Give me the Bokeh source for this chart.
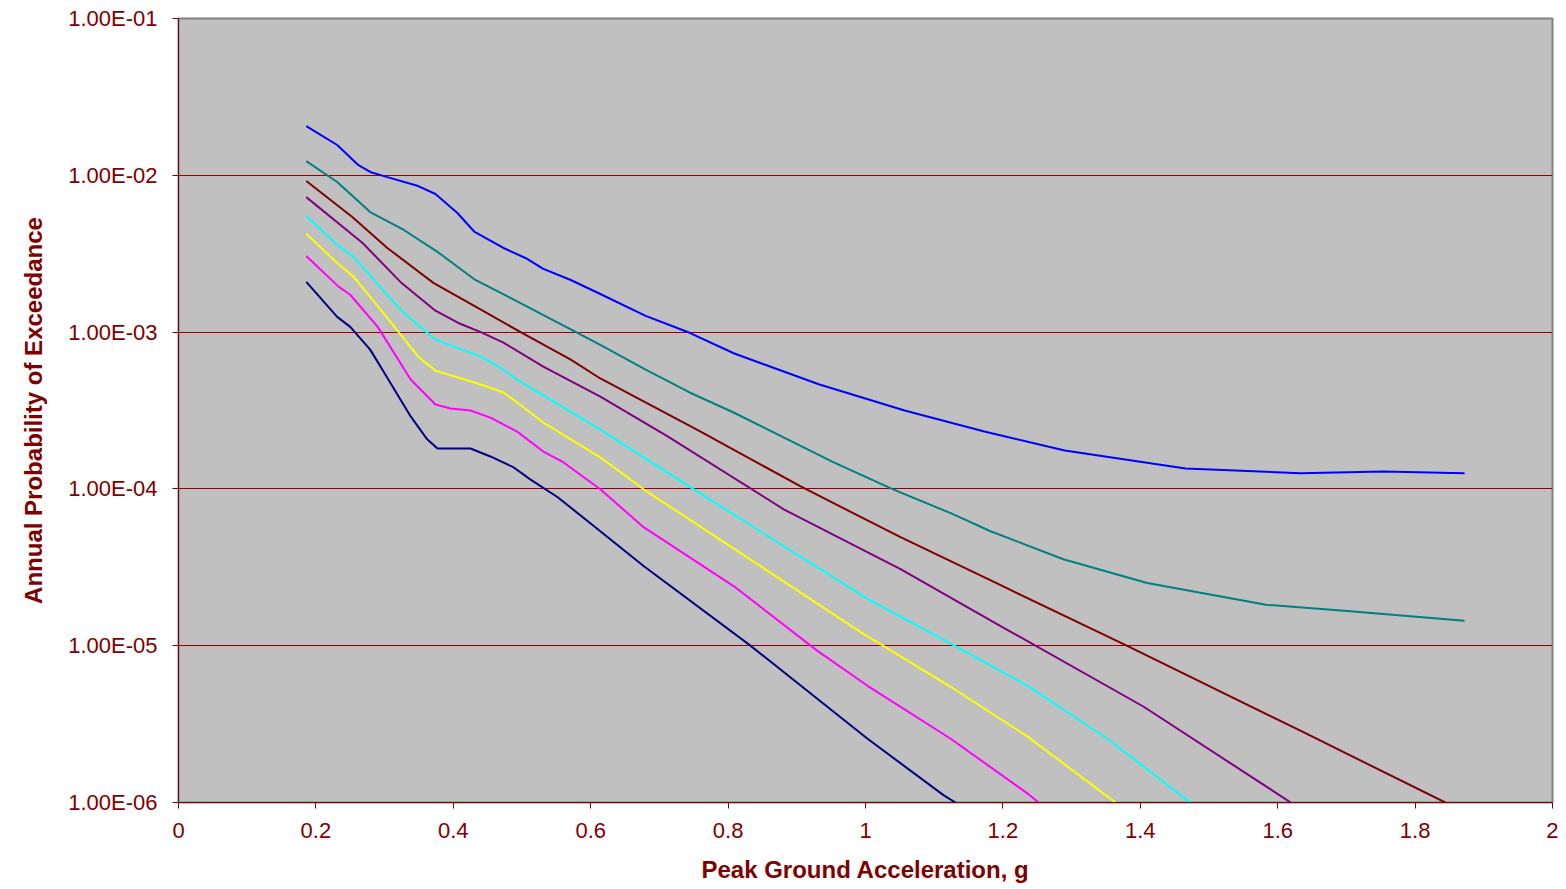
from bokeh.plotting import figure
from bokeh.models import Range1d, CustomJSTickFormatter, FixedTicker
from bokeh.embed import file_html
from bokeh.resources import INLINE

# ---- data ----
blue_x = [0.186, 0.231, 0.262, 0.279, 0.304, 0.349, 0.374, 0.406, 0.431, 0.473, 0.505, 0.531,
          0.571, 0.614, 0.680, 0.744, 0.809, 0.933, 1.057, 1.173, 1.290, 1.466, 1.633, 1.754, 1.872]
blue_y = [2.06e-2, 1.56e-2, 1.16e-2, 1.05e-2, 9.74e-3, 8.54e-3, 7.6e-3, 5.75e-3, 4.35e-3, 3.44e-3,
          2.97e-3, 2.53e-3, 2.15e-3, 1.75e-3, 1.27e-3, 9.9e-4, 7.3e-4, 4.63e-4, 3.16e-4, 2.32e-4,
          1.76e-4, 1.35e-4, 1.26e-4, 1.29e-4, 1.26e-4]

teal_x = [0.186, 0.231, 0.279, 0.328, 0.377, 0.432, 0.488, 0.571, 0.614, 0.680, 0.744, 0.808,
          0.953, 1.041, 1.124, 1.182, 1.288, 1.410, 1.585, 1.706, 1.872]
teal_y = [1.23e-2, 9.06e-3, 5.83e-3, 4.48e-3, 3.25e-3, 2.15e-3, 1.61e-3, 1.04e-3, 8.3e-4, 5.77e-4,
          4.12e-4, 3.07e-4, 1.48e-4, 9.9e-5, 7.0e-5, 5.37e-5, 3.56e-5, 2.51e-5, 1.82e-5, 1.66e-5,
          1.44e-5]

darkred_x = [0.186, 0.253, 0.304, 0.371, 0.435, 0.498, 0.571, 0.614, 0.760, 0.905, 1.051, 1.196,
             1.381, 1.633, 1.844]
darkred_y = [9.19e-3, 5.42e-3, 3.44e-3, 2.06e-3, 1.43e-3, 1.0e-3, 6.68e-4, 5.06e-4, 2.32e-4,
             1.04e-4, 4.92e-5, 2.44e-5, 9.97e-6, 2.87e-6, 1.0e-6]

purple_x = [0.186, 0.268, 0.323, 0.374, 0.410, 0.440, 0.473, 0.531, 0.614, 0.712, 0.881, 1.051,
            1.196, 1.405, 1.619]
purple_y = [7.26e-3, 3.7e-3, 2.09e-3, 1.37e-3, 1.13e-3, 1.0e-3, 8.57e-4, 6.03e-4, 3.88e-4, 2.16e-4,
            7.41e-5, 3.08e-5, 1.34e-5, 4.08e-6, 1.0e-6]

cyan_x = [0.186, 0.231, 0.255, 0.323, 0.374, 0.440, 0.473, 0.493, 0.614, 0.750, 1.003, 1.124,
          1.236, 1.352, 1.473]
cyan_y = [5.5e-3, 3.6e-3, 3.02e-3, 1.39e-3, 8.95e-4, 6.97e-4, 5.77e-4, 4.98e-4, 2.39e-4, 9.94e-5,
          1.99e-5, 1.03e-5, 5.55e-6, 2.55e-6, 1.0e-6]

yellow_x = [0.186, 0.231, 0.255, 0.291, 0.349, 0.374, 0.440, 0.473, 0.493, 0.531, 0.614, 0.677,
            0.993, 1.124, 1.236, 1.364]
yellow_y = [4.23e-3, 2.76e-3, 2.25e-3, 1.45e-3, 6.97e-4, 5.68e-4, 4.63e-4, 4.12e-4, 3.56e-4,
            2.65e-4, 1.59e-4, 9.94e-5, 1.22e-5, 5.47e-6, 2.63e-6, 1.0e-6]

magenta_x = [0.186, 0.233, 0.250, 0.290, 0.338, 0.374, 0.396, 0.425, 0.454, 0.493, 0.531, 0.560,
             0.614, 0.677, 0.808, 0.930, 1.003, 1.124, 1.236, 1.252]
magenta_y = [3.06e-3, 1.95e-3, 1.73e-3, 1.08e-3, 4.98e-4, 3.45e-4, 3.26e-4, 3.16e-4, 2.85e-4,
             2.32e-4, 1.73e-4, 1.48e-4, 9.94e-5, 5.7e-5, 2.4e-5, 9.27e-6, 5.55e-6, 2.55e-6,
             1.14e-6, 1.0e-6]

navy_x = [0.186, 0.231, 0.250, 0.279, 0.294, 0.338, 0.362, 0.377, 0.425, 0.454, 0.488, 0.512,
          0.552, 0.614, 0.677, 0.833, 1.003, 1.114, 1.131]
navy_y = [2.09e-3, 1.25e-3, 1.08e-3, 7.73e-4, 6.03e-4, 2.9e-4, 2.07e-4, 1.81e-4, 1.81e-4, 1.61e-4,
          1.37e-4, 1.15e-4, 8.85e-5, 5.37e-5, 3.22e-5, 9.97e-6, 2.55e-6, 1.11e-6, 1.0e-6]

series = [
    (blue_x, blue_y, "#0000FF"),
    (teal_x, teal_y, "#008080"),
    (darkred_x, darkred_y, "#800000"),
    (purple_x, purple_y, "#800080"),
    (cyan_x, cyan_y, "#00FFFF"),
    (yellow_x, yellow_y, "#FFFF00"),
    (magenta_x, magenta_y, "#FF00FF"),
    (navy_x, navy_y, "#000080"),
]

y_ticks = [1e-6, 1e-5, 1e-4, 1e-3, 1e-2, 1e-1]
x_ticks = [0, 0.2, 0.4, 0.6, 0.8, 1.0, 1.2, 1.4, 1.6, 1.8, 2.0]

AXIS = "#800000"
FONT = "Liberation Sans"

p = figure(width=1558, height=885, output_backend="svg", toolbar_location=None,
           y_axis_type="log", x_range=Range1d(0, 2), y_range=Range1d(1e-6, 1e-1),
           min_border_left=178, min_border_right=6, min_border_top=18, min_border_bottom=81)

p.background_fill_color = "#C0C0C0"
p.border_fill_color = "white"
p.outline_line_color = "#808080"
p.outline_line_width = 2

for xs, ys, c in series:
    p.line(xs, ys, line_color=c, line_width=2)

# grid
p.xgrid.grid_line_color = None
p.ygrid.grid_line_color = "#990000"
p.ygrid.grid_line_width = 1
p.ygrid.minor_grid_line_color = None

# axes
p.yaxis.ticker = FixedTicker(ticks=y_ticks, minor_ticks=[])
p.yaxis.formatter = CustomJSTickFormatter(
    code="var s = tick.toExponential(2).toUpperCase(); return s.replace(/E([-+])(\\d)$/, 'E$10$2');")
p.xaxis.ticker = FixedTicker(ticks=x_ticks, minor_ticks=[])
p.xaxis.formatter = CustomJSTickFormatter(code="return String(Math.round(tick*10)/10);")

for ax in (p.xaxis, p.yaxis):
    ax.axis_line_color = AXIS
    ax.axis_line_width = 1
    ax.major_tick_line_color = AXIS
    ax.major_tick_in = 0
    ax.major_tick_out = 6
    ax.minor_tick_line_color = None
    ax.major_label_text_color = AXIS
    ax.major_label_text_font = FONT
    ax.major_label_text_font_size = "22px"
    ax.axis_label_text_color = AXIS
    ax.axis_label_text_font = FONT
    ax.axis_label_text_font_style = "bold"
    ax.axis_label_text_font_size = "24px"

p.xaxis.axis_label = "Peak Ground Acceleration, g"
p.yaxis.axis_label = "Annual Probability of Exceedance"
p.xaxis.major_label_standoff = 14
p.yaxis.major_label_standoff = 15
p.xaxis.axis_label_standoff = 15
p.yaxis.axis_label_standoff = 18

open("out.html", "w").write(file_html(p, INLINE))
